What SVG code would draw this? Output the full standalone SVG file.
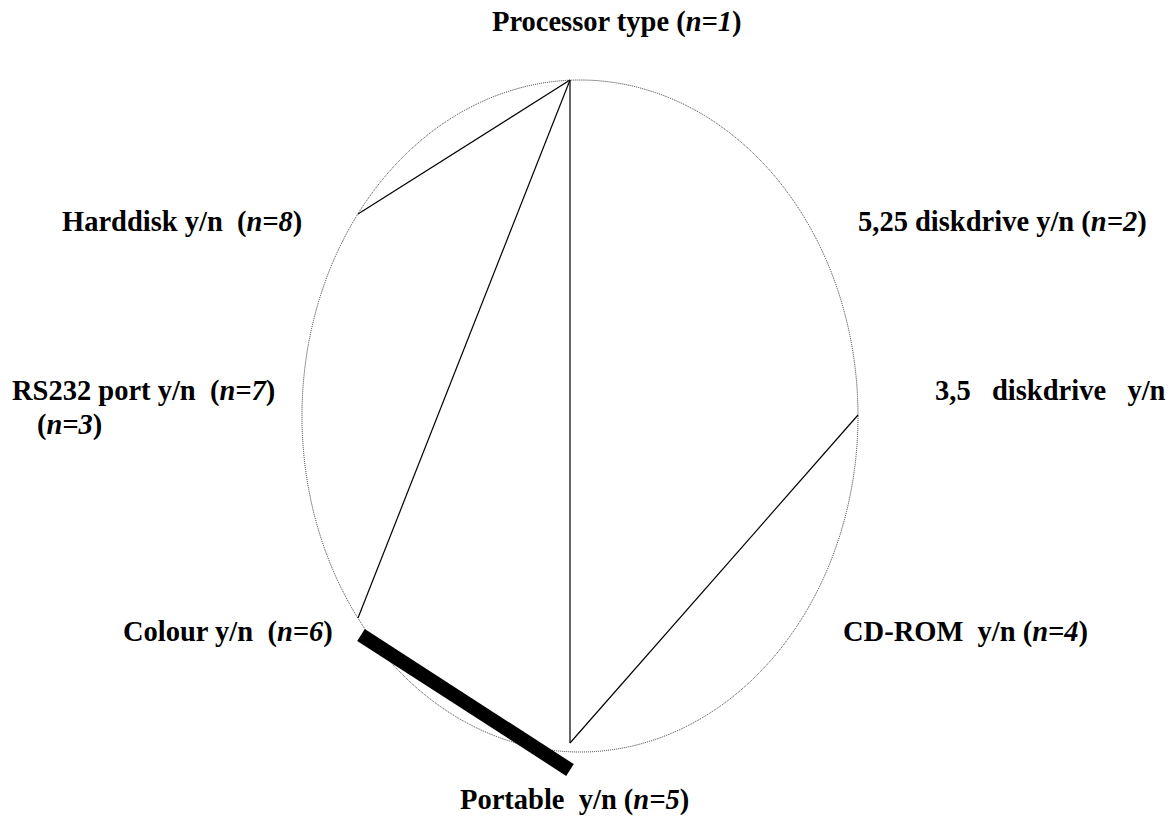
<svg xmlns="http://www.w3.org/2000/svg" width="1174" height="821" viewBox="0 0 1174 821">
  <style>
    .lbl { font-family: "Liberation Serif", "Times New Roman", serif; font-weight: bold; font-size: 28.5px; fill: #000; white-space: pre; }
    .it { font-style: italic; }
    .ring { fill: none; stroke: #333; stroke-width: 1; stroke-dasharray: 1 1; }
    .edge { stroke: #000; stroke-width: 1.2; fill: none; }
    .heavy { stroke: #000; stroke-width: 14; stroke-linecap: butt; fill: none; }
  </style>
  <rect width="1174" height="821" fill="#fff"/>

  <!-- dotted ring that the variables sit on -->
  <ellipse class="ring" cx="580" cy="416" rx="278" ry="336"/>

  <!-- connectors between variables -->
  <g id="connectors">
    <line class="edge" x1="570" y1="80" x2="358" y2="214"/>
    <line class="edge" x1="570" y1="80" x2="358" y2="618"/>
    <line class="edge" x1="570" y1="80" x2="570" y2="743"/>
    <line class="edge" x1="570" y1="743" x2="858" y2="415"/>
    <line class="heavy" x1="361" y1="635" x2="570" y2="770"/>
  </g>

  <!-- variable labels -->
  <g id="n1"><text class="lbl" x="492" y="31" xml:space="preserve">Processor type (<tspan class="it">n=1</tspan>)</text></g>
  <g id="n2"><text class="lbl" x="858" y="231" xml:space="preserve">5,25 diskdrive y/n (<tspan class="it">n=2</tspan>)</text></g>
  <g id="n3"><text class="lbl" x="935" y="400" xml:space="preserve">3,5   diskdrive   y/n</text></g>
  <g id="n4"><text class="lbl" x="843" y="641" xml:space="preserve">CD-ROM  y/n (<tspan class="it">n=4</tspan>)</text></g>
  <g id="n5"><text class="lbl" x="460" y="809" xml:space="preserve">Portable  y/n (<tspan class="it">n=5</tspan>)</text></g>
  <g id="n6"><text class="lbl" x="123" y="641" xml:space="preserve">Colour y/n  (<tspan class="it">n=6</tspan>)</text></g>
  <g id="n7">
    <text class="lbl" x="12" y="400" xml:space="preserve">RS232 port y/n  (<tspan class="it">n=7</tspan>)</text>
    <text class="lbl" x="37" y="434" xml:space="preserve">(<tspan class="it">n=3</tspan>)</text>
  </g>
  <g id="n8"><text class="lbl" x="62" y="231" xml:space="preserve">Harddisk y/n  (<tspan class="it">n=8</tspan>)</text></g>
</svg>
